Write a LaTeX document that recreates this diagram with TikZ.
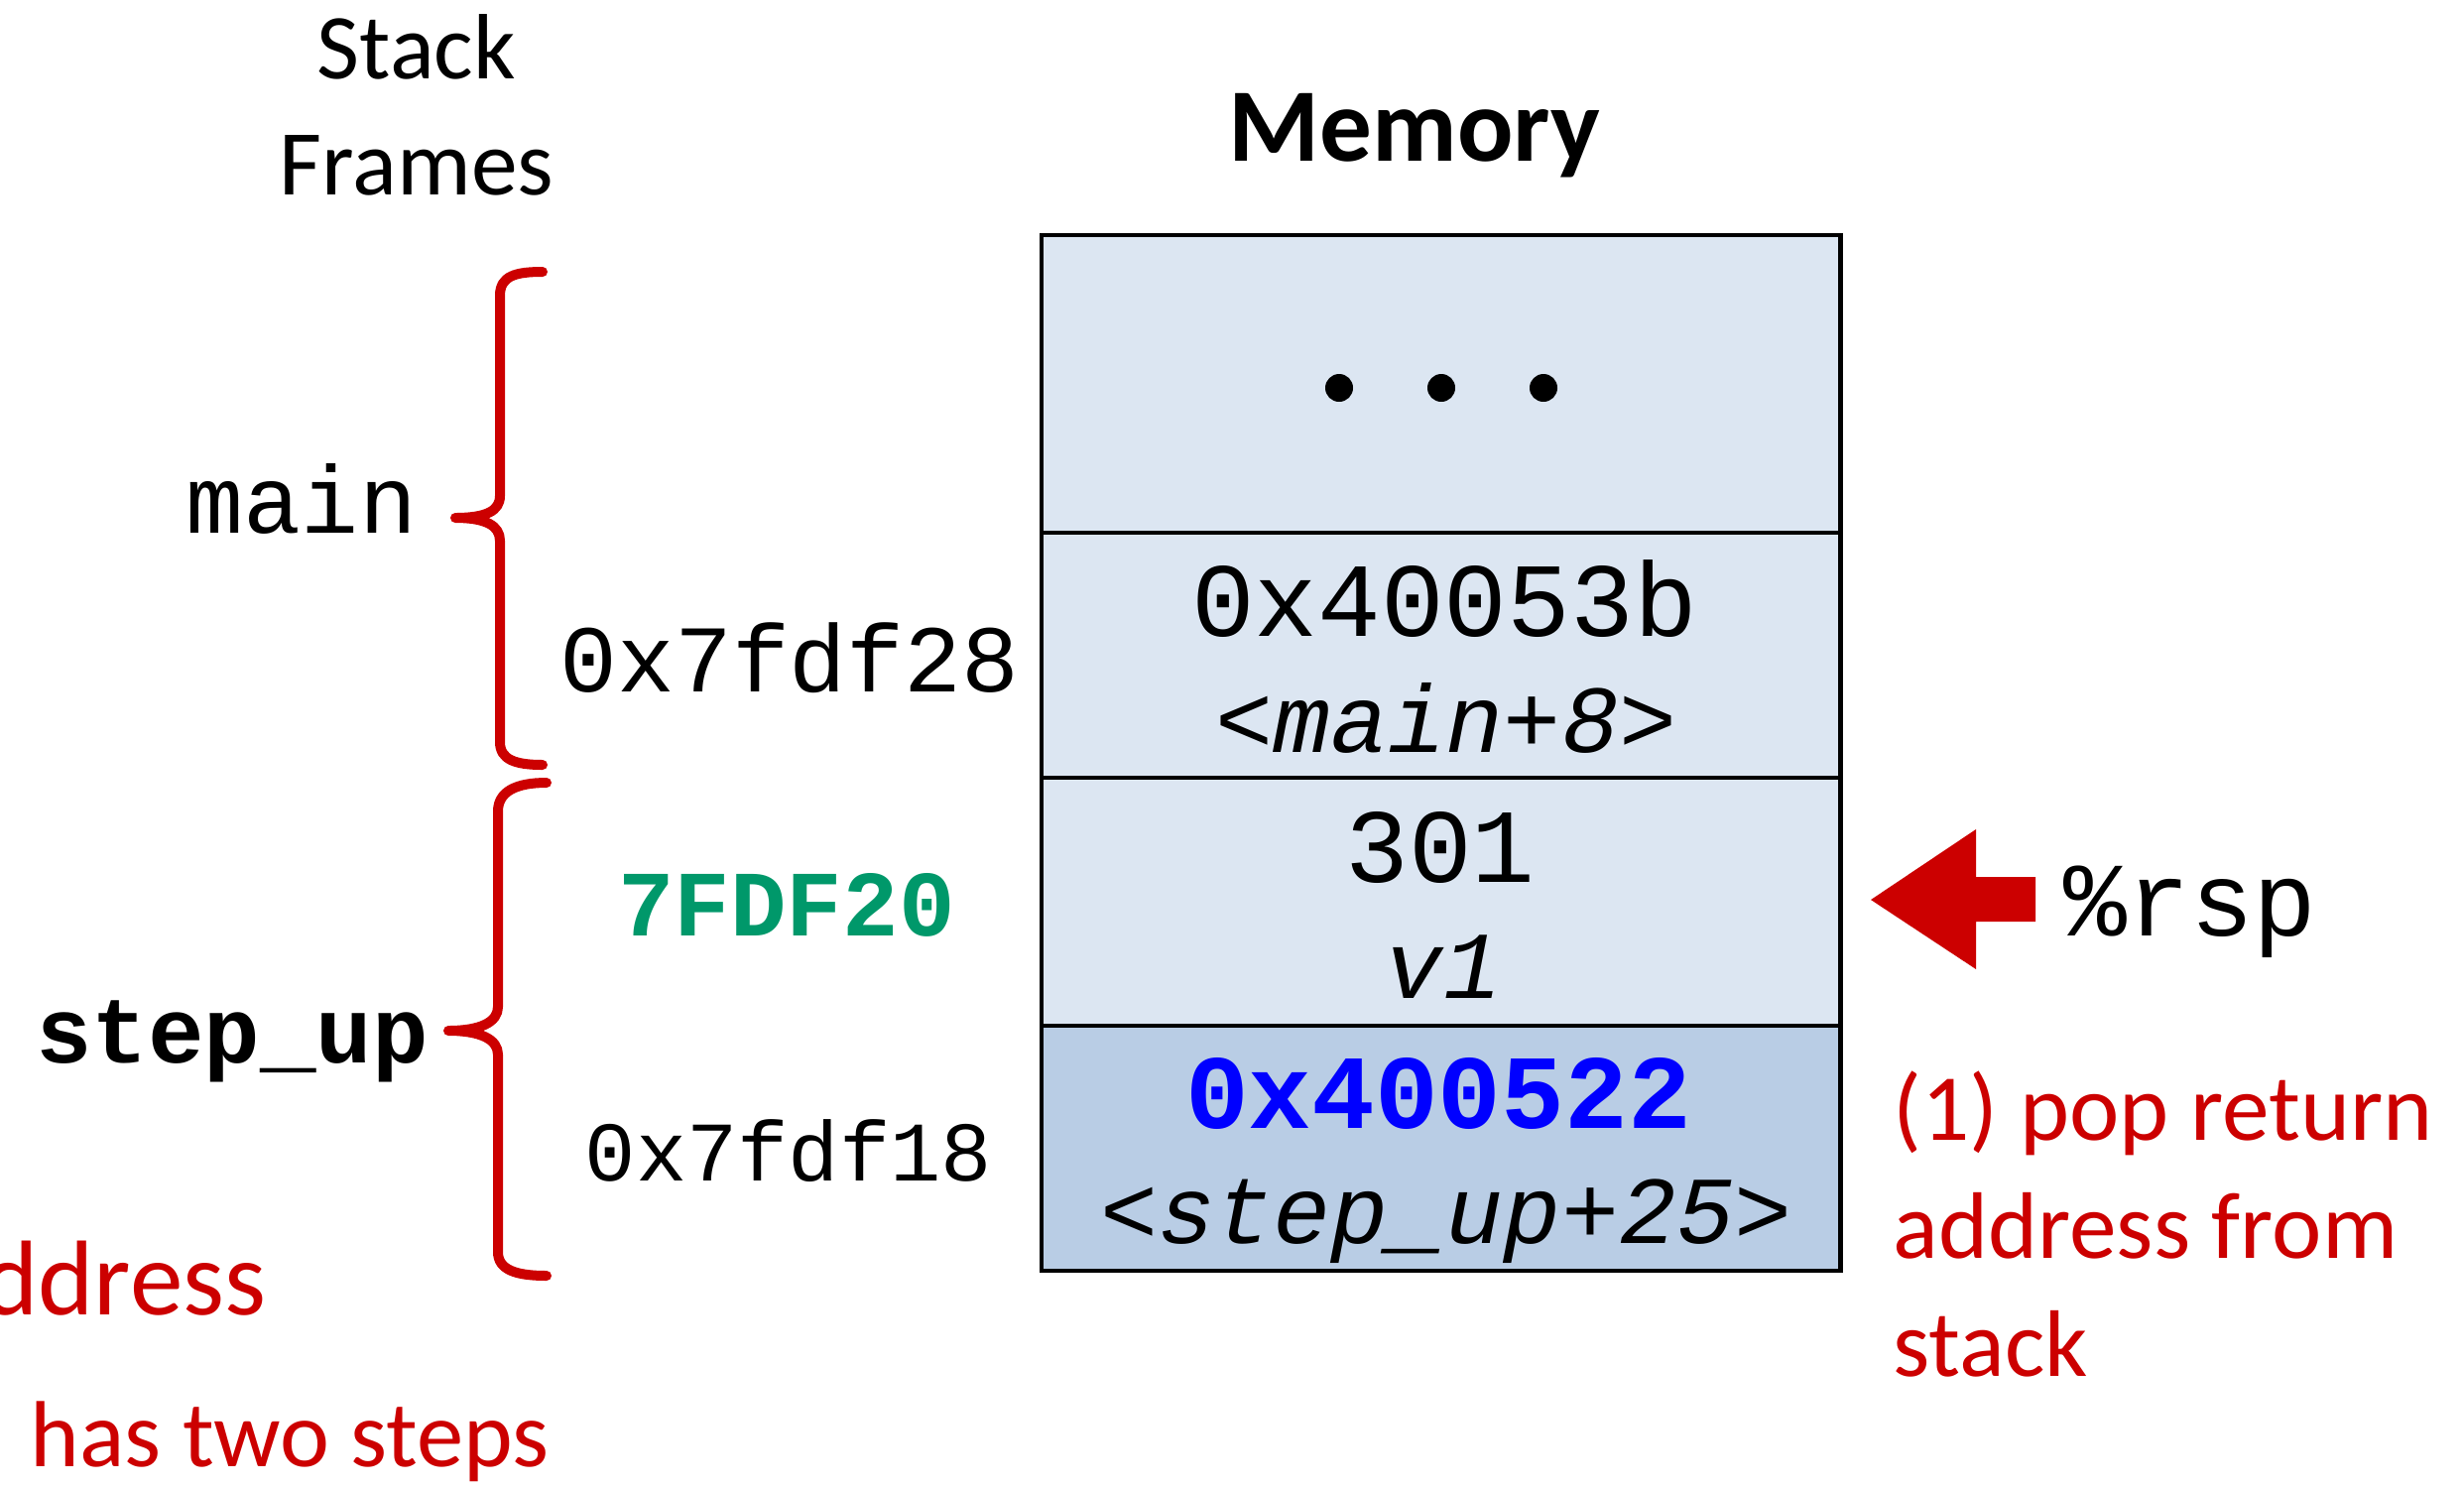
\documentclass[tikz,border=0pt]{standalone}
\usepackage{fontspec}
\setmainfont{Carlito}
\newfontfamily\monofam{Liberation Mono}
\definecolor{cellA}{HTML}{DCE6F2}
\definecolor{cellB}{HTML}{B9CDE5}
\definecolor{redC}{HTML}{CC0000}
\definecolor{greenC}{RGB}{0,152,106}
\definecolor{blueC}{HTML}{0000FF}
\newcommand\szA{\fontsize{30.2pt}{36pt}\selectfont}
\newcommand\szI{\fontsize{27.5pt}{33pt}\selectfont}
\newcommand\szT{\fontsize{26.6pt}{33.4pt}\selectfont}
\newcommand\szR{\fontsize{27.1pt}{33.4pt}\selectfont}
\tikzset{
  cell/.style={draw=black, line width=0.045cm, minimum width=8.05cm, inner sep=0pt, fill=cellA},
  lbl/.style={inner sep=0pt, anchor=base},
  lblw/.style={inner sep=0pt, anchor=base west},
  cellval/.style={lbl, font=\monofam\szA},
  cellnote/.style={lbl, font=\monofam\itshape\szI},
  redtxt/.style={lblw, text=redC, font=\szR},
  bracepath/.style={draw=redC, line width=0.1cm, line cap=round, line join=round},
  dot/.style={circle, fill=black, inner sep=0pt, minimum size=0.28cm}
}
\begin{document}
\begin{tikzpicture}[x=0.01cm,y=-0.01cm]
\useasboundingbox (0,0) rectangle (2484,1499);

% headings
\node[lbl, font=\bfseries\fontsize{29.9pt}{36pt}\selectfont] (mem) at (1426,162) {Memory};
\node[lbl, font=\szT] (stack) at (420,79) {Stack};
\node[lbl, font=\szT] (frames) at (420,196) {Frames};

% memory cells
\node[cell, minimum height=3.00cm] (c1) at (1452.5,387) {};
\node[cell, minimum height=2.47cm] (c2) at (1452.5,660.5) {};
\node[cell, minimum height=2.50cm] (c3) at (1452.5,909) {};
\node[cell, minimum height=2.47cm, fill=cellB] (c4) at (1452.5,1157.5) {};

% cell contents
\node[dot] (d1) at (1350,391) {};
\node[dot] (d2) at (1453,391) {};
\node[dot] (d3) at (1556,391) {};
\node[cellval] (v2a) at (1456,641) {0x40053b};
\node[cellnote] (v2b) at (1458,758) {<main+8>};
\node[cellval] (v3a) at (1452,889) {301};
\node[cellnote] (v3b) at (1455,1006) {v1};
\node[cellval, font=\monofam\bfseries\szA, text=blueC] (v4a) at (1450,1137) {0x400522};
\node[cellnote] (v4b) at (1458,1253) {<step\_up+25>};

% addresses
\node[lbl, font=\monofam\fontsize{27.4pt}{33pt}\selectfont] (a28) at (796,697) {0x7fdf28};
\node[lbl, font=\monofam\bfseries\fontsize{26.8pt}{32pt}\selectfont, text=greenC] (a20) at (793,943) {7FDF20};
\node[lbl, font=\monofam\fontsize{24.3pt}{29pt}\selectfont] (a18) at (795,1190) {0x7fdf18};

% frame names
\node[lbl, font=\monofam\fontsize{27.5pt}{33pt}\selectfont] (fmain) at (304,537) {main};
\node[lbl, font=\monofam\bfseries\fontsize{26.8pt}{32pt}\selectfont] (fstep) at (234,1071) {step\_up};

% braces
\path[bracepath] (547,274) .. controls (520,274) and (504,278) .. (504,298)
  -- (504,500) .. controls (504,515) and (490,522) .. (459,522)
  .. controls (490,522) and (504,530) .. (504,545)
  -- (504,748) .. controls (504,766) and (520,771) .. (547,771);
\path[bracepath] (551,789) .. controls (520,789) and (502,798) .. (502,818)
  -- (502,1015) .. controls (502,1030) and (485,1039) .. (452,1039)
  .. controls (485,1039) and (502,1048) .. (502,1063)
  -- (502,1262) .. controls (502,1280) and (520,1286) .. (551,1286);

% rsp arrow
\coordinate (tip) at (1886,907);
\fill[redC] (tip) -- (1992,836) -- (1992,884) -- (2052,884) -- (2052,929)
  -- (1992,929) -- (1992,977) -- cycle;
\node[lblw, font=\monofam\szA] (rsp) at (2080,943) {\%rsp};

% red notes
\node[redtxt] (n1) at (1908,1149) {(1) pop return};
\node[redtxt] (n2) at (1908,1268) {address from};
\node[redtxt] (n3) at (1908,1387) {stack};
\node[inner sep=0pt, anchor=base east, text=redC, font=\fontsize{30.5pt}{36pt}\selectfont] (n4) at (269,1325) {address};
\node[redtxt, font=\fontsize{26.9pt}{33pt}\selectfont] (n5) at (30,1478) {has two steps};
\end{tikzpicture}
\end{document}
